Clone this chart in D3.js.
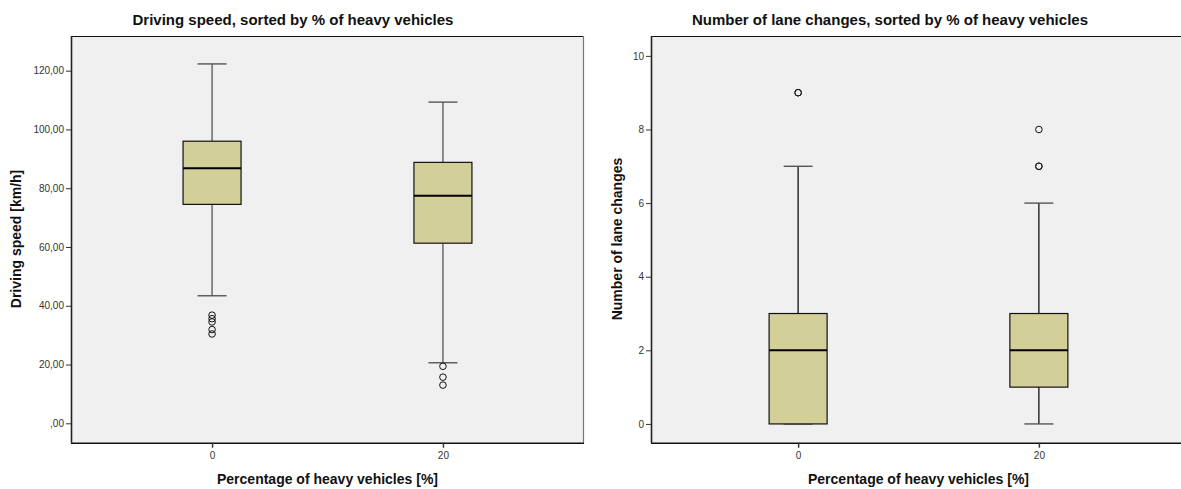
<!DOCTYPE html>
<html>
<head>
<meta charset="utf-8">
<script src="https://cdn.jsdelivr.net/npm/d3@7"></script>
<style>
  html, body { margin: 0; padding: 0; background: #ffffff; }
  svg { display: block; font-family: Arial, "Liberation Sans", sans-serif; }
</style>
</head>
<body>
<svg id="chart" width="1181" height="489"></svg>
<script>
// Category axis (percentage of heavy vehicles)
const categories = ["0", "20"];

// Driving speed [km/h]: box statistics per category
const speedLowWhisker = [43.4, 20.6];
const speedQ1 = [74.5, 61.3];
const speedMedian = [86.8, 77.4];
const speedQ3 = [96.0, 88.8];
const speedHighWhisker = [122.3, 109.3];
const speedOutliers = [
  [36.8, 35.6, 34.5, 31.9, 30.4],
  [19.4, 15.7, 13.0]
];
const speedTicks = [0, 20, 40, 60, 80, 100, 120];

// Number of lane changes: box statistics per category
const laneLowWhisker = [0, 0];
const laneQ1 = [0, 1];
const laneMedian = [2, 2];
const laneQ3 = [3, 3];
const laneHighWhisker = [7, 6];
const laneOutliers = [
  [9, 9],
  [8, 7, 7]
];
const laneTicks = [0, 2, 4, 6, 8, 10];

const svg = d3.select("#chart");
const BOX_FILL = "#d3cf98";
const PLOT_BG = "#f0f0f0";
const FONT = "Arial, 'Liberation Sans', sans-serif";

function drawPanel(opt) {
  const { x0, x1, top, bottom, yDomain, ticks, tickFormat, title, titleX, yLabel, yLabelPos, stats, whiskerColor } = opt;
  const g = svg.append("g");

  const x = d3.scalePoint().domain(categories).range([x0, x1]).padding(0.611);
  const y = d3.scaleLinear().domain(yDomain).range([bottom, top]);

  // plot area
  g.append("rect")
    .attr("x", x0).attr("y", top)
    .attr("width", x1 - x0).attr("height", bottom - top)
    .attr("fill", PLOT_BG);
  // frame: top edge and right edge
  g.append("line").attr("x1", x0).attr("x2", x1).attr("y1", top + 0.5).attr("y2", top + 0.5)
    .attr("stroke", "#111").attr("stroke-width", 1.2);
  g.append("line").attr("x1", x1 - 0.5).attr("x2", x1 - 0.5).attr("y1", top).attr("y2", bottom)
    .attr("stroke", "#777").attr("stroke-width", 1.2);

  const bw = 58;
  const capW = 29;

  categories.forEach((c, i) => {
    const cx = x(c);
    const s = stats;
    // whisker lines
    g.append("line").attr("x1", cx).attr("x2", cx)
      .attr("y1", y(s.q3[i])).attr("y2", y(s.hi[i]))
      .attr("stroke", whiskerColor).attr("stroke-width", 1.3);
    g.append("line").attr("x1", cx).attr("x2", cx)
      .attr("y1", y(s.q1[i])).attr("y2", y(s.lo[i]))
      .attr("stroke", whiskerColor).attr("stroke-width", 1.3);
    // caps
    [s.hi[i], s.lo[i]].forEach(v => {
      g.append("line").attr("x1", cx - capW / 2).attr("x2", cx + capW / 2)
        .attr("y1", y(v)).attr("y2", y(v))
        .attr("stroke", "#555").attr("stroke-width", 1.4);
    });
    // box
    g.append("rect")
      .attr("x", cx - bw / 2).attr("y", y(s.q3[i]))
      .attr("width", bw).attr("height", y(s.q1[i]) - y(s.q3[i]))
      .attr("fill", BOX_FILL).attr("stroke", "#111").attr("stroke-width", 1.2);
    // median
    g.append("line").attr("x1", cx - bw / 2).attr("x2", cx + bw / 2)
      .attr("y1", y(s.med[i])).attr("y2", y(s.med[i]))
      .attr("stroke", "#000").attr("stroke-width", 2);
    // outliers
    g.selectAll(null).data(s.out[i]).enter().append("circle")
      .attr("cx", cx).attr("cy", d => y(d)).attr("r", 3.3)
      .attr("fill", "none").attr("stroke", "#111").attr("stroke-width", 1);
  });

  // y axis
  const yAxis = g.append("g").attr("transform", `translate(${x0},0)`)
    .call(d3.axisLeft(y).tickValues(ticks).tickFormat(tickFormat).tickSize(5).tickPadding(2));
  yAxis.select(".domain").attr("stroke", "#222").attr("stroke-width", 1.6)
    .attr("d", `M0.5,${top}V${bottom}`);
  yAxis.selectAll(".tick line").attr("stroke", "#333");
  yAxis.selectAll(".tick text").attr("fill", "#333").style("font-size", "10px")
    .style("font-family", FONT);

  // x axis
  const xAxis = g.append("g").attr("transform", `translate(0,${bottom})`)
    .call(d3.axisBottom(x).tickSize(5).tickPadding(4));
  xAxis.select(".domain").attr("stroke", "#111").attr("stroke-width", 1.6)
    .attr("d", `M${x0},0.5H${x1}`);
  xAxis.selectAll(".tick line").attr("stroke", "#333").attr("stroke-width", 1.5);
  xAxis.selectAll(".tick text").attr("fill", "#333").style("font-size", "10px")
    .style("font-family", FONT);

  // axis titles
  g.append("text")
    .attr("x", (x0 + x1) / 2).attr("y", 484)
    .attr("text-anchor", "middle")
    .style("font-size", "14px").style("font-weight", "bold").attr("fill", "#111")
    .text("Percentage of heavy vehicles [%]");
  g.append("text")
    .attr("transform", `translate(${yLabelPos[0]},${yLabelPos[1]}) rotate(-90)`)
    .attr("text-anchor", "middle")
    .style("font-size", "14px").style("font-weight", "bold").attr("fill", "#111")
    .text(yLabel);

  // chart title
  g.append("text")
    .attr("x", titleX).attr("y", 25)
    .attr("text-anchor", "middle")
    .style("font-size", "15px").style("font-weight", "bold").attr("fill", "#111")
    .text(title);
}

const speedFmt = d => d === 0 ? ",00" : d3.format(".2f")(d).replace(".", ",");

drawPanel({
  x0: 71, x1: 584, top: 36, bottom: 442.7,
  yDomain: [-6.6, 131.8],
  ticks: speedTicks,
  tickFormat: speedFmt,
  title: "Driving speed, sorted by % of heavy vehicles",
  titleX: 293,
  yLabel: "Driving speed [km/h]",
  yLabelPos: [21, 239],
  whiskerColor: "#555",
  stats: { lo: speedLowWhisker, q1: speedQ1, med: speedMedian, q3: speedQ3, hi: speedHighWhisker, out: speedOutliers }
});

drawPanel({
  x0: 651, x1: 1186, top: 36, bottom: 442.7,
  yDomain: [-0.51, 10.54],
  ticks: laneTicks,
  tickFormat: d3.format("d"),
  title: "Number of lane changes, sorted by % of heavy vehicles",
  titleX: 890,
  yLabel: "Number of lane changes",
  yLabelPos: [622, 239],
  whiskerColor: "#111",
  stats: { lo: laneLowWhisker, q1: laneQ1, med: laneMedian, q3: laneQ3, hi: laneHighWhisker, out: laneOutliers }
});
</script>
</body>
</html>
